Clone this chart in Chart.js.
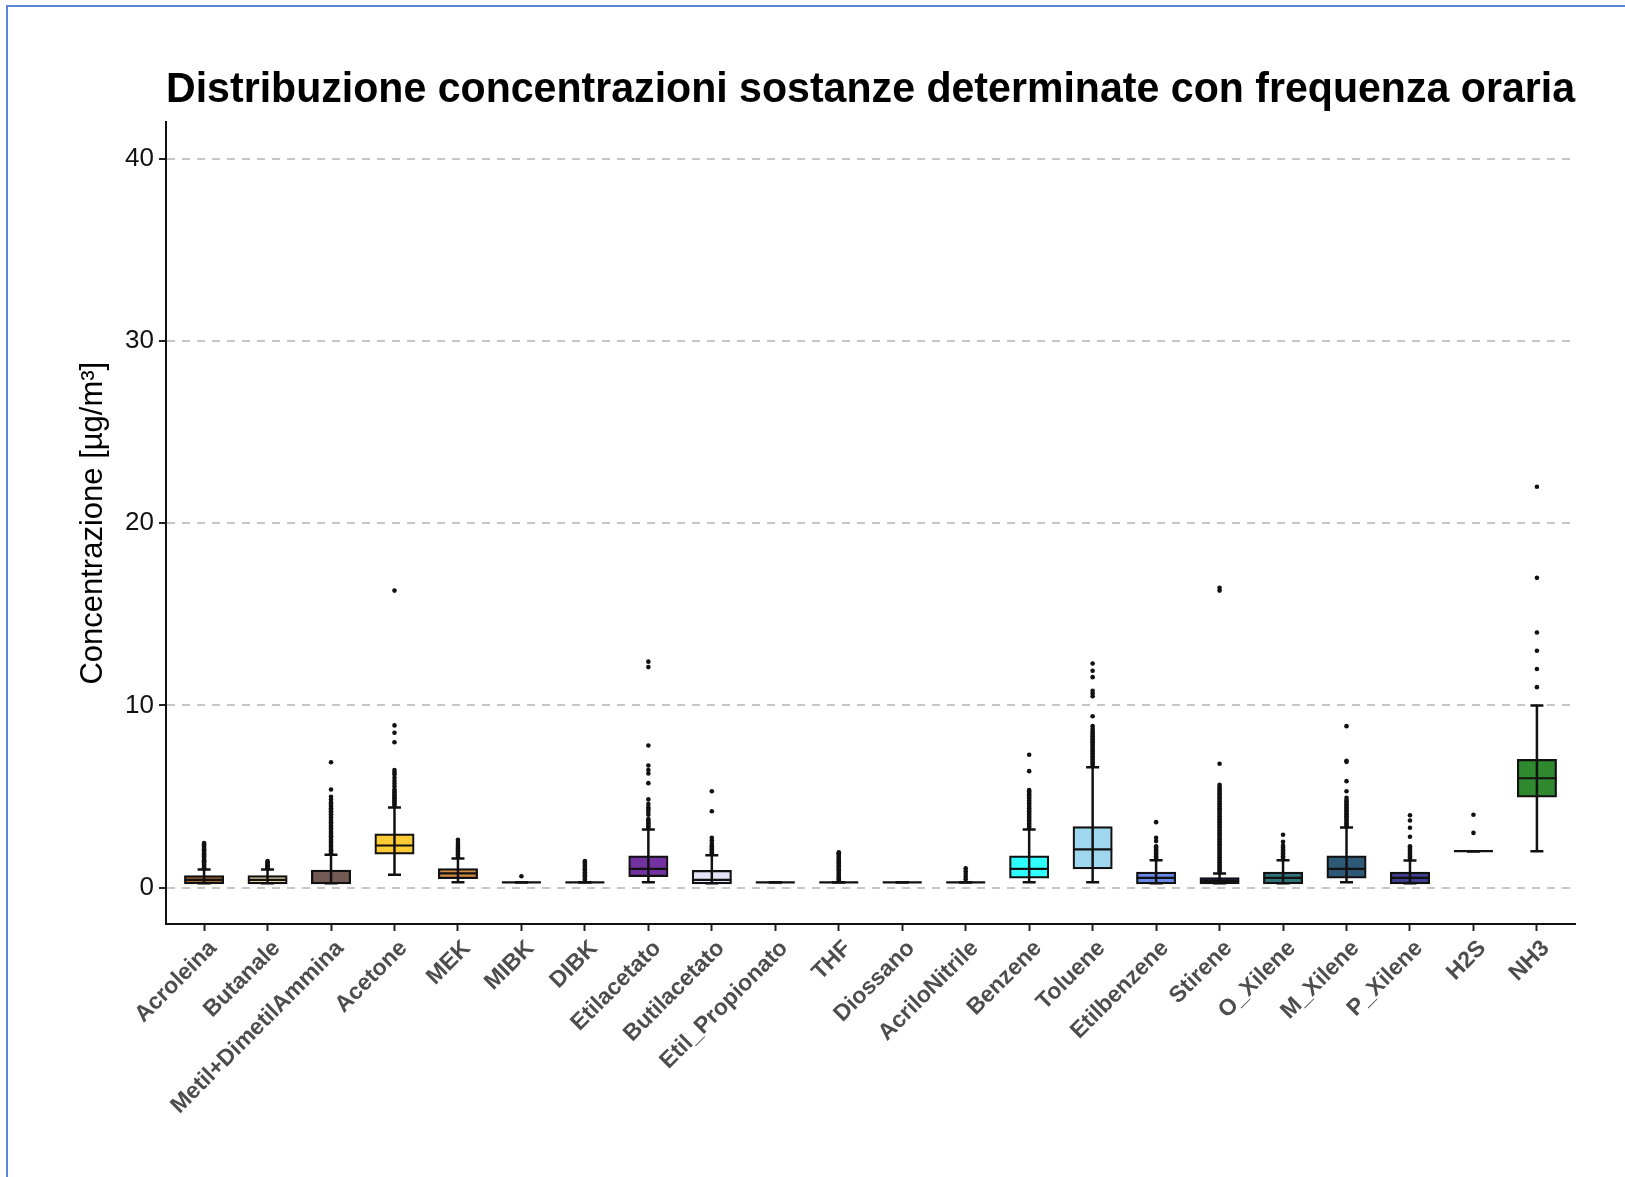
<!DOCTYPE html>
<html>
<head>
<meta charset="utf-8">
<script src="https://cdn.jsdelivr.net/npm/chart.js@4.4.1/dist/chart.umd.min.js"></script>
<style>
html,body{margin:0;padding:0;background:#fff;}
#wrap{position:relative;width:1625px;height:1177px;overflow:hidden;background:#fff;}
#frame{position:absolute;left:6px;top:5px;width:1640px;height:1200px;border-top:2px solid #5B86D8;border-left:2px solid #5B86D8;pointer-events:none;}
canvas{position:absolute;left:0;top:0;}
</style>
</head>
<body>
<div id="wrap"><canvas id="c" width="1625" height="1177"></canvas><div id="frame"></div></div>
<script>
// ---------- data ----------
const chartTitle = "Distribuzione concentrazioni sostanze determinate con frequenza oraria";
const yAxisTitle = "Concentrazione [µg/m³]";
const categories = ["Acroleina","Butanale","Metil+DimetilAmmina","Acetone","MEK","MIBK","DIBK","Etilacetato","Butilacetato","Etil_Propionato","THF","Diossano","AcriloNitrile","Benzene","Toluene","Etilbenzene","Stirene","O_Xilene","M_Xilene","P_Xilene","H2S","NH3"];
const q1          = [0.24,0.24,0.24,1.87,0.53,0.29,0.29,0.64,0.24,0.29,0.29,0.29,0.29,0.55,1.06,0.24,0.24,0.24,0.55,0.24,2,5];
const medians     = [0.42,0.42,0.25,2.31,0.78,0.29,0.29,1.03,0.42,0.29,0.29,0.29,0.29,1.03,2.10,0.53,0.37,0.53,1.03,0.53,2,6];
const q3          = [0.62,0.62,0.92,2.91,1.00,0.29,0.29,1.70,0.91,0.29,0.29,0.29,0.29,1.70,3.31,0.81,0.51,0.81,1.70,0.81,2,7];
const whiskerLow  = [0.24,0.24,0.24,0.70,0.29,0.29,0.29,0.29,0.24,0.29,0.29,0.29,0.29,0.29,0.29,0.24,0.24,0.24,0.29,0.24,2,2];
const whiskerHigh = [0.99,0.99,1.80,4.40,1.59,0.29,0.29,3.19,1.78,0.29,0.29,0.29,0.29,3.19,6.61,1.50,0.77,1.50,3.30,1.48,2,10];
const outliers = [
  [1.05,1.12,1.18,1.25,1.31,1.38,1.44,1.5,1.57,1.63,1.7,1.76,1.83,1.9,1.96,2.03,2.1,2.17,2.24,2.31,2.38,2.45],
  [1.05,1.1,1.15,1.2,1.26,1.32,1.38,1.45],
  [1.88,1.96,2.05,2.13,2.22,2.3,2.39,2.47,2.56,2.64,2.73,2.82,2.9,2.99,3.07,3.16,3.24,3.33,3.41,3.5,3.59,3.67,3.76,3.85,3.93,4.02,4.1,4.19,4.28,4.36,4.45,4.53,4.62,4.7,4.83,4.98,5.38,6.88],
  [4.48,4.56,4.64,4.72,4.8,4.88,4.96,5.05,5.13,5.22,5.3,5.38,5.55,5.7,5.85,6.02,6.2,6.32,6.45,7.98,8.5,8.9,16.3],
  [1.66,1.74,1.82,1.9,1.98,2.06,2.14,2.22,2.3,2.4,2.5,2.62],
  [0.62],
  [0.36,0.44,0.52,0.6,0.68,0.76,0.84,0.92,1.0,1.08,1.16,1.24,1.32,1.4,1.46],
  [3.27,3.35,3.43,3.51,3.6,3.68,3.76,4.0,4.15,4.29,4.4,4.58,4.84,5.73,6.26,6.45,6.7,7.8,12.1,12.4],
  [1.86,1.94,2.02,2.1,2.18,2.26,2.34,2.45,2.6,2.73,4.19,5.29],
  [],
  [0.37,0.45,0.53,0.61,0.69,0.77,0.85,0.93,1.01,1.09,1.17,1.25,1.33,1.41,1.49,1.57,1.65,1.73,1.81,1.88,1.94],
  [],
  [0.45,0.6,0.75,0.9,1.06],
  [3.27,3.35,3.43,3.51,3.6,3.68,3.76,3.85,3.93,4.02,4.1,4.19,4.27,4.36,4.44,4.53,4.61,4.7,4.78,4.87,4.95,5.04,5.12,5.2,5.28,5.35,6.39,7.29],
  [6.7,6.78,6.86,6.95,7.03,7.12,7.2,7.29,7.37,7.46,7.54,7.63,7.71,7.8,7.88,7.97,8.05,8.14,8.22,8.31,8.4,8.5,8.6,8.7,8.86,9.4,10.5,10.65,10.8,11.55,11.9,12.3],
  [1.56,1.64,1.72,1.8,1.88,1.96,2.04,2.12,2.2,2.27,2.55,2.73,3.59],
  [0.85,0.94,1.03,1.12,1.21,1.3,1.39,1.48,1.57,1.66,1.75,1.84,1.93,2.02,2.11,2.2,2.29,2.38,2.47,2.56,2.65,2.74,2.83,2.92,3.01,3.1,3.19,3.28,3.37,3.46,3.55,3.64,3.73,3.82,3.91,4.0,4.09,4.18,4.27,4.36,4.45,4.54,4.63,4.72,4.81,4.9,4.99,5.08,5.17,5.26,5.35,5.44,5.53,5.64,6.8,16.3,16.45],
  [1.56,1.64,1.72,1.8,1.88,1.96,2.04,2.12,2.2,2.3,2.51,2.9],
  [3.36,3.44,3.52,3.6,3.68,3.76,3.84,3.92,4.0,4.08,4.16,4.24,4.32,4.4,4.48,4.56,4.64,4.72,4.8,4.93,5.29,5.84,6.9,6.96,8.86],
  [1.55,1.63,1.71,1.79,1.87,1.95,2.03,2.11,2.19,2.27,2.79,3.28,3.68,3.97],
  [3,4],
  [11,12,13,14,17,22]
];
const yTicks = [0,10,20,30,40];
const yMin = -2, yMax = 42;

// ---------- styles ----------
const boxColors = ["#A8682F","#E8D2A4","#725954","#FDCB36","#D48C40","#888888","#888888","#7332A0","#E6E3F7","#888888","#888888","#888888","#888888","#2EFFFF","#9FD7EE","#6688E8","#1E2B6E","#2F7378","#2E5A78","#403F8F","#888888","#2F8A2F"];
const FONT = "'Liberation Sans', Arial, Helvetica, sans-serif";
const INK = '#111111';

// ---------- build datasets from the arrays ----------
const boxData = categories.map((c, i) => ({x: i, y: [q1[i], q3[i]]}));
const whiskerData = categories.map((c, i) => ({x: i, y: [whiskerLow[i], whiskerHigh[i]]}));
const medianData = categories.map((c, i) => ({x: i, y: medians[i]}));
const capData = [];
categories.forEach((c, i) => { capData.push({x: i, y: whiskerLow[i]}, {x: i, y: whiskerHigh[i]}); });
const outlierData = [];
outliers.forEach((arr, i) => arr.forEach(v => outlierData.push({x: i, y: v})));

new Chart(document.getElementById('c').getContext('2d'), {
  type: 'bar',
  data: {
    datasets: [
      {type: 'bar', label: 'box', data: boxData, backgroundColor: boxColors, borderColor: INK, borderWidth: 2.2,
       borderSkipped: false, grouped: false, maxBarThickness: 38, inflateAmount: 1, order: 4},
      {type: 'bar', label: 'whisker', data: whiskerData, backgroundColor: INK, borderWidth: 0,
       grouped: false, maxBarThickness: 2.5, inflateAmount: 0, order: 3},
      {type: 'scatter', label: 'median', data: medianData, pointStyle: 'line', pointRadius: 19.5,
       pointBorderColor: INK, pointBorderWidth: 2.2, pointBackgroundColor: INK, borderColor: INK, order: 2},
      {type: 'scatter', label: 'caps', data: capData, pointStyle: 'line', pointRadius: 6.5,
       pointBorderColor: INK, pointBorderWidth: 2.5, pointBackgroundColor: INK, borderColor: INK, order: 1},
      {type: 'scatter', label: 'outliers', data: outlierData, pointStyle: 'circle', pointRadius: 2.3,
       pointBackgroundColor: INK, pointBorderWidth: 0, backgroundColor: INK, order: 0}
    ]
  },
  options: {
    responsive: false,
    animation: false,
    devicePixelRatio: 1,
    events: [],
    layout: {padding: {left: 0, right: 50, top: 0, bottom: 0}},
    plugins: {
      legend: {display: false},
      tooltip: {enabled: false},
      title: {display: true, text: chartTitle, fullSize: false, color: '#000',
              font: {family: FONT, size: 42, weight: 'bold', lineHeight: 1.2},
              padding: {top: 65, bottom: 7}}
    },
    scales: {
      x: {
        type: 'linear', min: -0.6, max: 21.6, offset: false,
        afterBuildTicks: (s) => { s.ticks = categories.map((c, i) => ({value: i})); },
        afterFit: (s) => { s.height = 253; },
        ticks: {autoSkip: false, minRotation: 45, maxRotation: 45, labelOffset: 9, padding: 4,
                color: '#4D4D4D', font: {family: FONT, size: 23, weight: 'bold'},
                callback: (v) => categories[v]},
        grid: {display: true, drawOnChartArea: false, drawTicks: true, tickLength: 7,
               tickColor: '#222', tickWidth: 2, offset: false},
        border: {display: true, color: INK, width: 2}
      },
      y: {
        type: 'linear', min: yMin, max: yMax,
        afterBuildTicks: (s) => { s.ticks = yTicks.map(v => ({value: v})); },
        afterFit: (s) => { s.width = 166; },
        ticks: {color: '#111', padding: 5, font: {family: FONT, size: 26}},
        grid: {color: '#C6C6C6', lineWidth: 2, drawTicks: true, tickLength: 7,
               tickColor: '#222', tickWidth: 2, tickBorderDash: []},
        border: {display: true, color: INK, width: 2, dash: [8, 7]},
        title: {display: true, text: yAxisTitle, color: '#000',
                font: {family: FONT, size: 31}, padding: {top: 75, bottom: 0}}
      }
    }
  }
});
</script>
</body>
</html>
